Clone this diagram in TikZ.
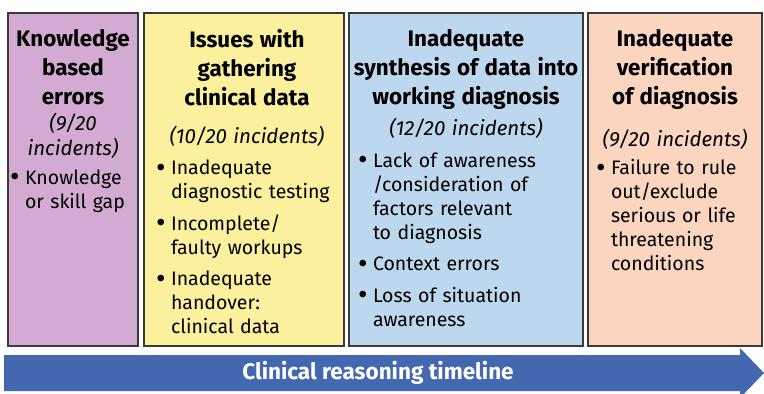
\documentclass[tikz,border=0pt]{standalone}
\usepackage{fontspec}
\usepackage{graphicx}
\setmainfont{Fira Sans}
\definecolor{cpurple}{HTML}{D3ABD2}
\definecolor{cyellow}{HTML}{FAF09E}
\definecolor{cblue}{HTML}{BDD7EE}
\definecolor{cpeach}{HTML}{FBD5C0}
\definecolor{carrow}{HTML}{4468B0}
\definecolor{cborder}{HTML}{3A3A3A}
\newcommand\bdot{\raisebox{-0.12em}{\scalebox{1.5}{\textbullet}}}
\newcommand\bitem[2][7.5pt]{\par\vspace{#1}\hangindent=15pt\hangafter=1\noindent\makebox[15pt][l]{\bdot}#2\par}
\newcommand\ttl[1]{{\fontsize{22.4pt}{29pt}\selectfont\bfseries\centering\leftskip=-12pt plus 1fil\rightskip=-12pt plus 1fil\parfillskip=0pt #1\par}}
\newcommand\cnt[1]{{\fontsize{20.5pt}{25pt}\selectfont\itshape\centering #1\par}}
\tikzset{
  box/.style={draw=cborder, line width=1.5pt, inner sep=0pt},
  txt/.style={anchor=north, inner sep=0pt, font=\fontsize{19.5pt}{24pt}\selectfont},
}
\begin{document}
\begin{tikzpicture}[x=1pt,y=-1pt]
\useasboundingbox (0,0) rectangle (764,394);
\node[box, fill=cpurple, minimum width=130pt, minimum height=333pt] (b1) at (73,179.5) {};
\node[box, fill=cyellow, minimum width=200pt, minimum height=333pt] (b2) at (244,179.5) {};
\node[box, fill=cblue, minimum width=234pt, minimum height=333pt] (b3) at (466,179.5) {};
\node[box, fill=cpeach, minimum width=174pt, minimum height=333pt] (b4) at (675,179.5) {};

\node[txt, text width=126pt] (t1) at (73,29) {%
\ttl{Knowledge\\based\\errors}
\vspace{1.5pt}
\cnt{(9/20\\incidents)}
\raggedright
\bitem[4.5pt]{Knowledge\newline or skill gap}};

\node[txt, text width=182pt] (t2) at (247,29) {%
\ttl{Issues with\\gathering\\clinical data}
\vspace{13pt}
\cnt{(10/20 incidents)}
\raggedright
\bitem{Inadequate\newline diagnostic testing}
\bitem{Incomplete/\newline faulty workups}
\bitem{Inadequate\newline handover:\newline clinical data}};

\node[txt, text width=216pt] (t3) at (466,29) {%
\ttl{Inadequate\\synthesis of data into\\working diagnosis}
\vspace{6pt}
\cnt{(12/20 incidents)}
\raggedright
\bitem[8pt]{Lack of awareness\newline /consideration of\newline factors relevant\newline to diagnosis}
\bitem[7.5pt]{Context errors}
\bitem[7.5pt]{Loss of situation\newline awareness}};

\node[txt, text width=158pt] (t4) at (675,29) {%
\ttl{Inadequate\\verification\\of diagnosis}
\vspace{17pt}
\cnt{(9/20 incidents)}
\raggedright
\bitem[4.5pt]{Failure to rule\newline out/exclude\newline serious or life\newline threatening\newline conditions}};

\fill[carrow] (4,355) -- (740,355) -- (740,348) -- (764,373) -- (740,398) -- (740,391) -- (4,391) -- cycle;
\node[text=white, font=\fontsize{22.5pt}{26pt}\selectfont\bfseries] (lab) at (378,373) {Clinical reasoning timeline};
\end{tikzpicture}
\end{document}
